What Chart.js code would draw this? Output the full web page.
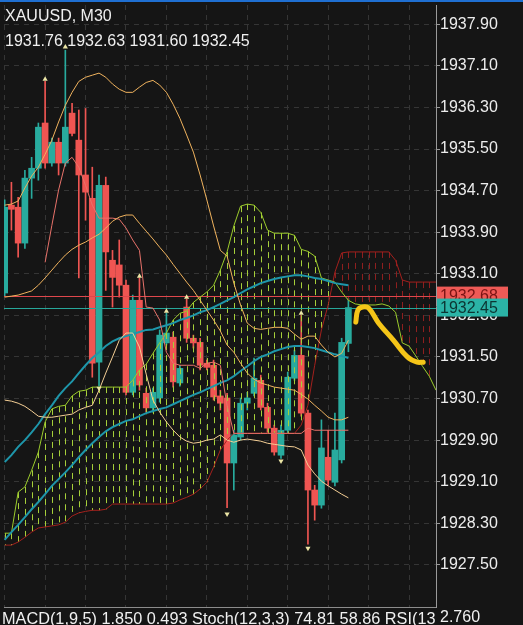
<!DOCTYPE html>
<html>
<head>
<meta charset="utf-8">
<script src="https://cdn.jsdelivr.net/npm/chart.js@4"></script>
<style>
  html, body { margin: 0; padding: 0; background: #151515; }
  canvas { display: block; }
</style>
</head>
<body>
<canvas id="chart" width="523" height="625"></canvas>
<script>
// XAUUSD M30 candles (bar index 0..51)
const opens = [1932.73, 1934.42, 1934.38, 1933.69, 1934.94, 1935.13, 1936.00, 1935.23, 1935.63, 1935.23,
  1936.19, 1935.67, 1935.00, 1934.55, 1931.40, 1934.80, 1933.36, 1933.27, 1932.88, 1930.82,
  1932.59, 1930.80, 1930.52, 1930.71, 1931.77, 1931.88, 1931.00, 1932.46, 1931.86, 1931.78,
  1931.38, 1931.34, 1930.75, 1930.71, 1929.46, 1929.96, 1930.61, 1930.80, 1931.05, 1930.53,
  1930.13, 1929.61, 1930.09, 1931.09, 1931.53, 1930.42, 1928.94, 1928.65, 1929.57, 1929.09,
  1929.52, 1931.76];
const highs = [1934.52, 1934.86, 1934.57, 1935.09, 1935.34, 1936.00, 1936.80, 1935.71, 1935.71, 1937.40,
  1936.38, 1936.25, 1936.28, 1935.15, 1935.00, 1934.96, 1933.55, 1933.75, 1932.98, 1932.69,
  1933.02, 1930.90, 1930.90, 1932.02, 1932.34, 1931.98, 1931.34, 1932.61, 1931.92, 1931.86,
  1931.44, 1931.44, 1930.86, 1930.80, 1930.09, 1930.71, 1930.82, 1931.48, 1931.15, 1930.61,
  1930.19, 1930.19, 1931.21, 1931.63, 1932.30, 1930.48, 1929.03, 1930.29, 1930.09, 1930.42,
  1931.86, 1932.63];
const lows = [1932.67, 1933.94, 1933.42, 1933.59, 1934.55, 1934.90, 1935.13, 1935.17, 1935.00, 1935.17,
  1935.75, 1933.02, 1934.13, 1931.11, 1930.94, 1932.78, 1932.46, 1932.65, 1930.77, 1930.77,
  1930.86, 1930.44, 1930.44, 1930.63, 1931.73, 1930.92, 1930.94, 1931.78, 1931.67, 1931.25,
  1931.25, 1930.67, 1930.48, 1928.60, 1928.94, 1929.90, 1930.48, 1930.75, 1930.48, 1930.05,
  1929.61, 1929.55, 1930.03, 1931.05, 1930.36, 1927.90, 1928.36, 1928.59, 1929.03, 1929.02,
  1929.46, 1931.60];
const closes = [1934.38, 1934.34, 1933.69, 1934.94, 1935.13, 1935.92, 1935.23, 1935.63, 1935.23, 1935.92,
  1935.80, 1935.00, 1934.67, 1931.38, 1934.80, 1933.52, 1933.03, 1932.88, 1930.82, 1932.59,
  1930.96, 1930.52, 1930.82, 1931.92, 1931.96, 1931.02, 1931.28, 1931.86, 1931.77, 1931.34,
  1931.30, 1930.73, 1930.61, 1929.46, 1930.00, 1930.61, 1930.71, 1931.09, 1930.53, 1930.13,
  1929.67, 1930.09, 1931.11, 1931.53, 1930.42, 1928.94, 1928.65, 1929.75, 1929.13, 1929.71,
  1931.78, 1932.45];

// Ichimoku cloud, shifted forward (bar index 0..64)
const spanA = [1928.11, 1928.11, 1928.90, 1929.00, 1929.32, 1929.67, 1930.25, 1930.50, 1930.55, 1930.57,
  1930.75, 1930.84, 1930.86, 1930.92, 1930.92, 1930.92, 1930.92, 1930.92, 1930.92, 1931.05,
  1931.25, 1931.36, 1931.57, 1931.77, 1931.96, 1932.21, 1932.34, 1932.38, 1932.55, 1932.65,
  1932.75, 1932.88, 1933.17, 1933.52, 1934.02, 1934.40, 1934.44, 1934.42, 1934.28, 1933.94,
  1933.88, 1933.88, 1933.88, 1933.84, 1933.57, 1933.53, 1933.44, 1933.02, 1932.98, 1932.94,
  1932.75, 1932.59, 1932.52, 1932.50, 1932.50, 1932.50, 1932.52, 1932.48, 1932.36, 1931.77,
  1931.71, 1931.52, 1931.32, 1931.13, 1930.86];
const spanB = [1927.88, 1927.88, 1927.94, 1928.03, 1928.13, 1928.21, 1928.23, 1928.25, 1928.27, 1928.32,
  1928.44, 1928.50, 1928.53, 1928.55, 1928.55, 1928.57, 1928.67, 1928.67, 1928.67, 1928.67,
  1928.67, 1928.67, 1928.67, 1928.67, 1928.67, 1928.69, 1928.75, 1928.80, 1928.86, 1928.96,
  1929.09, 1929.38, 1929.71, 1929.90, 1930.03, 1930.03, 1930.03, 1930.03, 1930.03, 1930.03,
  1930.03, 1930.03, 1930.03, 1930.03, 1930.19, 1930.57, 1931.34, 1932.02, 1932.50, 1933.13,
  1933.50, 1933.52, 1933.52, 1933.52, 1933.52, 1933.52, 1933.52, 1933.52, 1933.36, 1932.98,
  1932.94, 1932.94, 1932.94, 1932.94, 1932.94];
const tenkan = [null, null, null, null, null, null, 1933.32, 1934.03, 1934.71, 1935.23,
  1935.34, 1935.15, 1934.80, 1934.42, 1934.17, 1934.17, 1934.17, 1934.15, 1933.98, 1933.75,
  1933.55, 1932.46, 1932.44, 1932.21, 1931.59, 1931.38, 1931.34, 1931.34, 1931.34, 1931.28,
  1931.38, 1931.40, 1931.34, 1930.57, 1930.03, 1930.03, 1930.03, 1930.03, 1930.03, 1930.03,
  1930.03, 1930.03, 1930.03, 1930.03, 1930.03, 1930.13, 1930.09, 1930.09, 1930.09, 1930.09,
  1930.09, 1930.09];

// moving averages (teal)
const ma1 = [1929.48, 1929.61, 1929.77, 1929.90, 1930.05, 1930.21, 1930.40, 1930.57, 1930.75, 1930.90,
  1931.03, 1931.19, 1931.34, 1931.48, 1931.59, 1931.71, 1931.80, 1931.86, 1931.90, 1931.94,
  1931.98, 1932.02, 1932.03, 1932.07, 1932.11, 1932.15, 1932.21, 1932.25, 1932.30, 1932.36,
  1932.40, 1932.46, 1932.52, 1932.59, 1932.65, 1932.73, 1932.80, 1932.86, 1932.92, 1932.96,
  1933.00, 1933.03, 1933.05, 1933.07, 1933.07, 1933.05, 1933.02, 1933.00, 1932.96, 1932.92,
  1932.90, 1932.88];
const ma2 = [1927.98, 1928.13, 1928.27, 1928.42, 1928.57, 1928.71, 1928.86, 1929.02, 1929.15, 1929.28,
  1929.42, 1929.57, 1929.71, 1929.84, 1929.96, 1930.07, 1930.15, 1930.21, 1930.27, 1930.30,
  1930.36, 1930.42, 1930.46, 1930.50, 1930.53, 1930.59, 1930.65, 1930.71, 1930.77, 1930.82,
  1930.88, 1930.94, 1931.00, 1931.05, 1931.13, 1931.23, 1931.32, 1931.42, 1931.50, 1931.55,
  1931.61, 1931.65, 1931.69, 1931.71, 1931.71, 1931.69, 1931.67, 1931.63, 1931.59, 1931.55,
  1931.52, 1931.48];

// envelope lines (orange)
const bandUp = [1934.42, 1934.44, 1934.50, 1934.75, 1934.98, 1935.15, 1935.40, 1935.67, 1936.02, 1936.34,
  1936.59, 1936.80, 1936.88, 1936.92, 1936.96, 1936.88, 1936.75, 1936.65, 1936.59, 1936.59,
  1936.69, 1936.78, 1936.82, 1936.73, 1936.59, 1936.36, 1936.09, 1935.77, 1935.44, 1935.00,
  1934.52, 1934.02, 1933.55, 1933.44, 1932.92, 1932.50, 1932.15, 1932.05, 1932.03, 1932.05,
  1932.07, 1932.07, 1932.05, 1931.94, 1931.84, 1931.90, 1931.90, 1931.73, 1931.59, 1931.50,
  1931.57, 1931.82];
const bandMid = [1932.65, 1932.67, 1932.69, 1932.73, 1932.77, 1932.88, 1933.02, 1933.17, 1933.32, 1933.46,
  1933.57, 1933.65, 1933.71, 1933.79, 1933.86, 1933.98, 1934.11, 1934.19, 1934.23, 1934.23,
  1934.07, 1933.92, 1933.77, 1933.61, 1933.46, 1933.28, 1933.11, 1932.94, 1932.78, 1932.59,
  1932.40, 1932.21, 1932.00, 1931.73, 1931.59, 1931.38, 1931.19, 1931.07, 1931.00, 1930.96,
  1930.92, 1930.90, 1930.88, 1930.86, 1930.78, 1930.69, 1930.57, 1930.46, 1930.34, 1930.29,
  1930.29, 1930.34];
const bandLow = [1930.67, 1930.65, 1930.61, 1930.55, 1930.46, 1930.36, 1930.34, 1930.34, 1930.36, 1930.38,
  1930.40, 1930.48, 1930.53, 1930.57, 1930.86, 1931.19, 1931.50, 1931.82, 1931.96, 1931.96,
  1931.69, 1931.17, 1930.67, 1930.44, 1930.25, 1930.09, 1929.96, 1929.88, 1929.84, 1929.86,
  1929.90, 1929.92, 1930.00, 1929.90, 1929.86, 1929.90, 1929.92, 1929.90, 1929.88, 1929.84,
  1929.82, 1929.80, 1929.78, 1929.77, 1929.71, 1929.42, 1929.25, 1929.11, 1929.02, 1928.94,
  1928.86, 1928.79];

// fractal markers
const fractalUpBars = [6, 9, 20, 24, 27, 44];
const fractalUpVals = [1936.84, 1937.46, 1933.05, 1932.38, 1932.65, 1932.34];
const fractalDnBars = [14, 33, 41, 45];
const fractalDnVals = [1930.90, 1928.48, 1929.50, 1927.82];

// hand-drawn forecast stroke
const drawBars = [52.1, 52.4, 53.1, 54.0, 55.5, 57.7, 59.75, 61.2, 62.1];
const drawVals = [1932.17, 1932.40, 1932.46, 1932.44, 1932.15, 1931.82, 1931.50, 1931.40, 1931.40];

// price levels: ask / bid
const askPrice = 1932.68;
const bidPrice = 1932.45;

const priceTicks = [1927.50, 1928.30, 1929.10, 1929.90, 1930.70, 1931.50, 1932.30, 1933.10,
  1933.90, 1934.70, 1935.50, 1936.30, 1937.10, 1937.90];
const gridBars = [0, 6, 12, 18, 24, 30, 36, 42, 48, 54, 60];
const yMin = 1926.69;
const yMax = 1938.27;

const symbolTitle = 'XAUUSD, M30';
const subWindowText = 'MACD(1,9,5) 1.850 0.493 Stoch(12,3,3) 74.81 58.86 RSI(13';
const subWindowTick = '2.760';

const FONT = "'Liberation Sans', Arial, sans-serif";
const UP = '#28ab9e';
const DOWN = '#ef5552';

const candleColors = opens.map((o, i) => closes[i] >= o ? UP : DOWN);
const pts = vals => vals.map((v, i) => ({ x: i, y: v }));

function lineSet(label, vals, color, width, order) {
    return {
        type: 'line', label, data: pts(vals),
        borderColor: color, borderWidth: width,
        pointRadius: 0, tension: 0, order
    };
}

// dashed ichimoku cloud + horizontal price lines
function drawCloud(chart) {
    const { ctx, chartArea, scales: { x, y } } = chart;
    ctx.save();
    ctx.beginPath();
    ctx.rect(chartArea.left, chartArea.top, chartArea.width, chartArea.height);
    ctx.clip();
    ctx.lineWidth = 1;
    ctx.setLineDash([6, 5]);
    spanA.forEach((a, i) => {
        const b = spanB[i];
        const px = Math.round(x.getPixelForValue(i)) + 0.5;
        ctx.strokeStyle = a >= b ? '#a6cf3a' : '#8e1f1f';
        ctx.beginPath();
        ctx.moveTo(px, y.getPixelForValue(Math.max(a, b)));
        ctx.lineTo(px, y.getPixelForValue(Math.min(a, b)));
        ctx.stroke();
    });
    ctx.setLineDash([]);
    [[askPrice, '#e0474c'], [bidPrice, '#27a79a']].forEach(([p, c]) => {
        const py = Math.round(y.getPixelForValue(p)) + 0.5;
        ctx.strokeStyle = c;
        ctx.beginPath();
        ctx.moveTo(chartArea.left, py);
        ctx.lineTo(chartArea.right, py);
        ctx.stroke();
    });
    ctx.restore();
}

const overlay = {
    id: 'overlay',
    beforeDraw(chart) {
        const ctx = chart.ctx;
        ctx.save();
        ctx.fillStyle = '#151515';
        ctx.fillRect(0, 0, chart.width, chart.height);
        ctx.restore();
    },
    afterDatasetDraw(chart, args) {
        if (chart.data.datasets[args.index].label === 'bodies') drawCloud(chart);
    },
    afterDraw(chart) {
        const { ctx, chartArea, scales: { y } } = chart;
        ctx.save();
        // blue top border
        ctx.fillStyle = '#1f6fd1';
        ctx.fillRect(0, 0, chart.width, 2);

        // header
        ctx.font = '16px ' + FONT;
        ctx.textBaseline = 'top';
        ctx.fillStyle = '#f0f0f0';
        const last = opens.length - 1;
        const ohlc = [opens[last], highs[last], lows[last], closes[last]].map(v => v.toFixed(2)).join(' ');
        ctx.fillText(symbolTitle, 5, 9);
        ctx.fillText(ohlc, 5, 34);

        // price boxes on the axis
        ctx.textBaseline = 'middle';
        [[askPrice, '#ef5a56', '#7a1414'], [bidPrice, '#2bb3a6', '#0c3532']].forEach(([p, bg, fg]) => {
            const py = y.getPixelForValue(p);
            ctx.fillStyle = bg;
            ctx.fillRect(chartArea.right + 1, py - 9, 71, 18);
            ctx.fillStyle = fg;
            ctx.fillText(p.toFixed(2), chartArea.right + 4, py + 1);
        });

        // sub-window header
        ctx.textBaseline = 'top';
        ctx.fillStyle = '#f0f0f0';
        ctx.fillText(subWindowTick, chartArea.right + 4, 610);
        ctx.beginPath();
        ctx.rect(0, chartArea.bottom + 1, chartArea.right, chart.height - chartArea.bottom);
        ctx.clip();
        ctx.font = '16.3px ' + FONT;
        ctx.fillText(subWindowText, 2, 611);
        ctx.restore();
    }
};

const datasets = [
    { type: 'bar', label: 'wicks', data: lows.map((l, i) => ({ x: i, y: [l, highs[i]] })),
      backgroundColor: candleColors, barThickness: 1, grouped: false, order: 10 },
    { type: 'bar', label: 'bodies', data: opens.map((o, i) => ({ x: i, y: [o, closes[i]] })),
      backgroundColor: candleColors, barThickness: 6, minBarLength: 1, grouped: false, order: 9 },
    lineSet('spanA', spanA, '#9ccc2c', 1, 6),
    lineSet('spanB', spanB, '#a3201d', 1, 6),
    lineSet('ma2', ma2, '#1e96aa', 2, 5),
    lineSet('ma1', ma1, '#1e96aa', 2, 5),
    lineSet('tenkan', tenkan, '#e8726a', 1, 4),
    lineSet('bandLow', bandLow, '#f5cf95', 1, 3),
    lineSet('bandMid', bandMid, '#f0b35e', 1, 3),
    lineSet('bandUp', bandUp, '#f0b35e', 1, 3),
    { type: 'line', label: 'fractalUp', showLine: false,
      data: fractalUpBars.map((b, i) => ({ x: b, y: fractalUpVals[i] })),
      pointStyle: 'triangle', pointRadius: 3, pointBorderWidth: 0, pointBackgroundColor: '#ece6a6', order: 1 },
    { type: 'line', label: 'fractalDn', showLine: false,
      data: fractalDnBars.map((b, i) => ({ x: b, y: fractalDnVals[i] })),
      pointStyle: 'triangle', pointRotation: 180, pointRadius: 3, pointBorderWidth: 0, pointBackgroundColor: '#ece6a6', order: 1 },
    { type: 'line', label: 'drawing', data: drawBars.map((b, i) => ({ x: b, y: drawVals[i] })),
      borderColor: '#f5c518', borderWidth: 5, borderCapStyle: 'round', borderJoinStyle: 'round',
      pointRadius: 0, tension: 0.4, order: 0 }
];

new Chart(document.getElementById('chart'), {
    type: 'bar',
    data: { datasets },
    plugins: [overlay],
    options: {
        responsive: false,
        animation: false,
        events: [],
        layout: { padding: { top: 5, bottom: 18, left: 0, right: 0 } },
        plugins: { legend: { display: false }, tooltip: { enabled: false } },
        scales: {
            x: {
                type: 'linear', min: -0.1, max: 64, offset: false,
                afterBuildTicks: s => { s.ticks = gridBars.map(v => ({ value: v })); },
                afterFit: s => { s.height = 0; s.paddingLeft = 0; s.paddingRight = 0; },
                ticks: { display: false },
                grid: { color: '#353535', drawTicks: false, offset: false },
                border: { display: true, color: '#8c8c8c', dash: [5, 5] }
            },
            y: {
                position: 'right', min: yMin, max: yMax,
                afterBuildTicks: s => { s.ticks = priceTicks.map(v => ({ value: v })); },
                afterFit: s => { s.width = 87; s.paddingTop = 0; s.paddingBottom = 0; },
                ticks: { color: '#ececec', font: { family: FONT, size: 16 }, padding: 0,
                         callback: v => Number(v).toFixed(2) },
                grid: { color: '#353535', tickLength: 4, tickColor: '#9a9a9a' },
                border: { display: true, color: '#9a9a9a', dash: [5, 5] }
            }
        }
    }
});
</script>
</body>
</html>
